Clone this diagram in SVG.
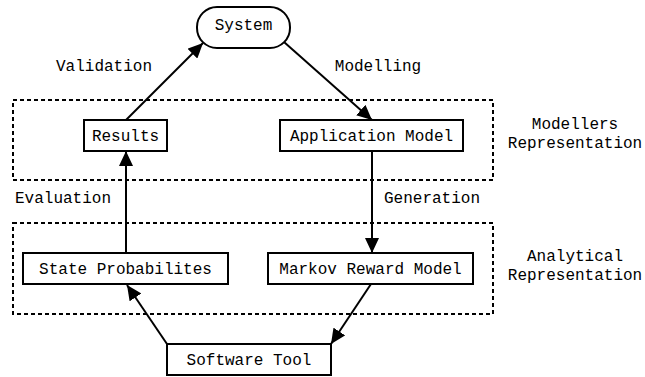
<svg xmlns="http://www.w3.org/2000/svg" width="645" height="377" viewBox="0 0 645 377">
<style>
text{font-family:"Liberation Mono","Courier New",monospace;font-size:16px;fill:#000}
.m{text-anchor:middle}
.box{fill:#fff;stroke:#000;stroke-width:2}
.group{fill:none;stroke:#000;stroke-width:2;stroke-dasharray:4,3}
.edge{fill:none;stroke:#000;stroke-width:2}
</style>
<defs>
<marker id="ah" markerUnits="userSpaceOnUse" markerWidth="16" markerHeight="14" refX="15" refY="7" orient="auto">
<path d="M0,0 L15,7 L0,14 Z" fill="#000"/>
</marker>
</defs>
<g id="modellers-representation">
<rect class="group" x="13" y="100" width="480" height="80"/>
<text class="m" x="575" y="129">Modellers</text>
<text class="m" x="575" y="148">Representation</text>
</g>
<g id="analytical-representation">
<rect class="group" x="13" y="223" width="480" height="91"/>
<text class="m" x="575" y="261">Analytical</text>
<text class="m" x="575" y="280">Representation</text>
</g>
<g id="connectors">
<line class="edge" x1="126" y1="120" x2="203" y2="43" marker-end="url(#ah)"/>
<line class="edge" x1="284" y1="42" x2="372" y2="120" marker-end="url(#ah)"/>
<line class="edge" x1="372" y1="151" x2="372" y2="253" marker-end="url(#ah)"/>
<line class="edge" x1="126" y1="253" x2="126" y2="151" marker-end="url(#ah)"/>
<line class="edge" x1="167" y1="344" x2="127" y2="285" marker-end="url(#ah)"/>
<line class="edge" x1="371" y1="284" x2="331" y2="344" marker-end="url(#ah)"/>
<text class="m" x="104" y="71">Validation</text>
<text class="m" x="378" y="71">Modelling</text>
<text class="m" x="63" y="203">Evaluation</text>
<text class="m" x="432" y="203">Generation</text>
</g>
<g id="system">
<rect class="box" x="197" y="7" width="93" height="41" rx="20" ry="20"/>
<text class="m" x="243.5" y="30">System</text>
</g>
<g id="results">
<rect class="box" x="84" y="120" width="83" height="31"/>
<text class="m" x="125.5" y="141">Results</text>
</g>
<g id="application-model">
<rect class="box" x="280" y="120" width="183" height="31"/>
<text class="m" x="371.5" y="141">Application Model</text>
</g>
<g id="state-probabilites">
<rect class="box" x="23" y="253" width="205" height="31"/>
<text class="m" x="125.5" y="274">State Probabilites</text>
</g>
<g id="markov-reward-model">
<rect class="box" x="268" y="253" width="205" height="31"/>
<text class="m" x="370.5" y="274">Markov Reward Model</text>
</g>
<g id="software-tool">
<rect class="box" x="167" y="344" width="164" height="31"/>
<text class="m" x="249" y="365">Software Tool</text>
</g>
</svg>
